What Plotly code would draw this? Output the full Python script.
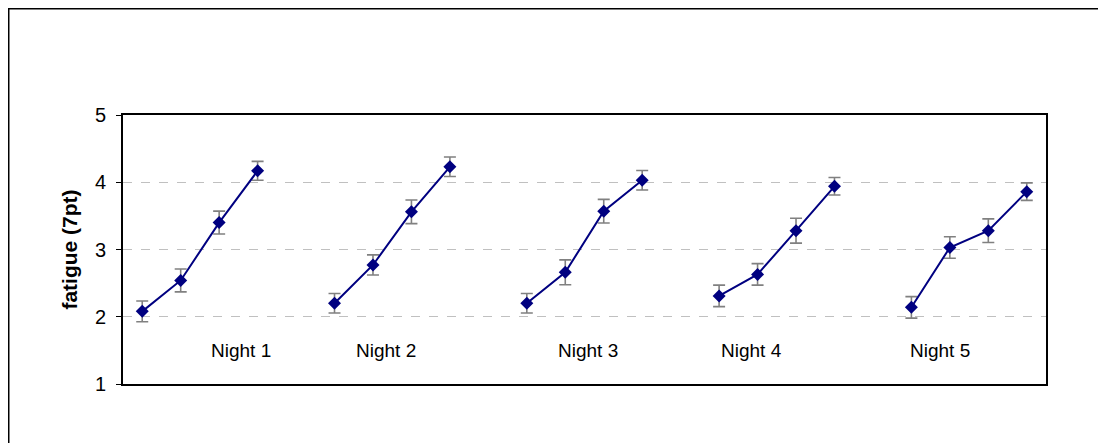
import plotly.graph_objects as go

# ---- data ----
nights = ["Night 1", "Night 2", "Night 3", "Night 4", "Night 5"]
points_per_night = 4
fatigue_n1 = [2.08, 2.54, 3.40, 4.17]
fatigue_n2 = [2.20, 2.77, 3.56, 4.23]
fatigue_n3 = [2.20, 2.66, 3.57, 4.03]
fatigue_n4 = [2.31, 2.63, 3.28, 3.94]
fatigue_n5 = [2.14, 3.03, 3.28, 3.86]
err_n1 = [0.155, 0.17, 0.17, 0.14]
err_n2 = [0.145, 0.15, 0.175, 0.145]
err_n3 = [0.145, 0.185, 0.175, 0.145]
err_n4 = [0.16, 0.16, 0.185, 0.13]
err_n5 = [0.16, 0.16, 0.175, 0.13]
y_ticks = [1, 2, 3, 4, 5]

fatigue = [fatigue_n1, fatigue_n2, fatigue_n3, fatigue_n4, fatigue_n5]
errors = [err_n1, err_n2, err_n3, err_n4, err_n5]

# style / layout
NAVY = "#000080"
FONT = "Liberation Sans, Arial, sans-serif"
slot_gap = 1  # one empty category between nights
label_offsets = [2.57, 1.35, 1.58, 0.83, 0.75]  # label centre relative to night start
label_y = 1.5

fig = go.Figure()
for n, (name, ys, es) in enumerate(zip(nights, fatigue, errors)):
    start = n * (points_per_night + slot_gap)
    xs = [start + k for k in range(len(ys))]
    fig.add_trace(go.Scatter(
        x=xs, y=ys, mode="lines+markers", name=name, showlegend=False,
        line=dict(color=NAVY, width=2),
        marker=dict(symbol="diamond", size=10, color=NAVY),
        error_y=dict(type="data", array=es, visible=True,
                     color="#808080", thickness=1.6, width=6),
    ))
    fig.add_annotation(x=start + label_offsets[n], y=label_y, text=name,
                       showarrow=False, xanchor="center", yanchor="middle",
                       font=dict(family=FONT, size=19, color="black"))

n_slots = len(nights) * points_per_night + (len(nights) - 1) * slot_gap

fig.update_layout(
    width=1098, height=435,
    margin=dict(l=115, r=60, t=107, b=59),
    paper_bgcolor="white", plot_bgcolor="white",
    font=dict(family=FONT, size=20, color="black"),
    xaxis=dict(range=[-0.5, n_slots - 0.5], showticklabels=False, ticks="",
               showgrid=False, zeroline=False, showline=True,
               linecolor="black", linewidth=2, mirror=True),
    yaxis=dict(range=[1, 5], tickvals=y_ticks, ticks="outside", ticklen=5,
               tickcolor="black", tickwidth=1, ticklabelstandoff=6,
               showgrid=True, gridcolor="#c0c0c0", griddash="dash", gridwidth=1,
               zeroline=False, showline=True, linecolor="black", linewidth=2,
               mirror=True, tickfont=dict(family=FONT, size=20),
               title=dict(text="<b>fatigue (7pt)</b>", standoff=12,
                          font=dict(family=FONT, size=21))),
    shapes=[dict(type="rect", xref="paper", yref="paper",
                 x0=-0.1246, x1=1.2, y0=-0.5, y1=1.3978,
                 line=dict(color="black", width=3), fillcolor="rgba(0,0,0,0)",
                 layer="below")],
)

fig.write_html("out.html")
